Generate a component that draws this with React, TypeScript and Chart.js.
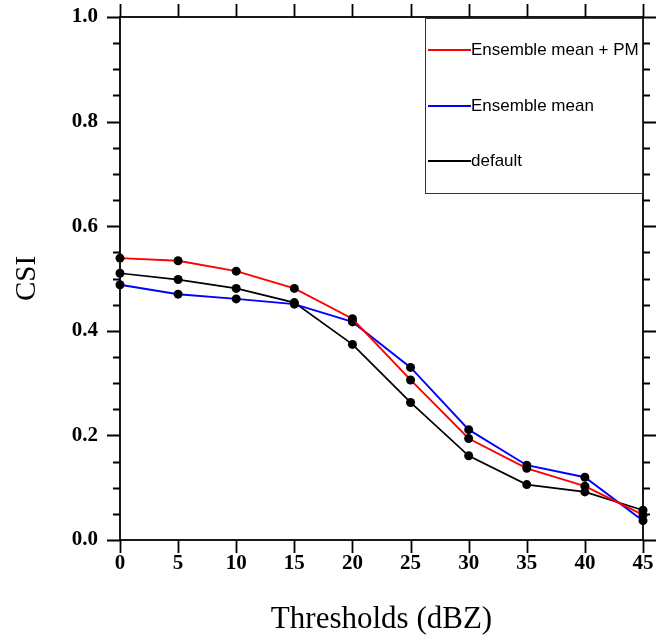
import React, { useEffect, useRef } from "react";
import { Chart, registerables } from "chart.js";

Chart.register(...registerables);

const thresholds = [0, 5, 10, 15, 20, 25, 30, 35, 40, 45];
const ensembleMeanPM = [0.539, 0.534, 0.514, 0.481, 0.423, 0.306, 0.194, 0.137, 0.103, 0.048];
const ensembleMean = [0.488, 0.47, 0.461, 0.451, 0.417, 0.33, 0.211, 0.143, 0.12, 0.037];
const defaultRun = [0.51, 0.498, 0.481, 0.454, 0.374, 0.263, 0.161, 0.106, 0.092, 0.057];

const seriesNames = ["Ensemble mean + PM", "Ensemble mean", "default"];
const seriesColors = ["#ff0000", "#0000ff", "#000000"];
const seriesValues = [ensembleMeanPM, ensembleMean, defaultRun];

const xMin = 0;
const xMax = 45;
const xStep = 5;
const yMin = 0;
const yMax = 1;
const yStep = 0.2;
const yMinorStep = 0.05;

const framePlugin = {
  id: "frameAndTicks",
  afterDatasetsDraw(chart: any) {
    const { ctx, chartArea, scales } = chart;
    const { left, right, top, bottom } = chartArea;
    const x = scales.x;
    const y = scales.y;
    ctx.save();
    ctx.strokeStyle = "#000";
    ctx.lineWidth = 1.8;
    ctx.strokeRect(left, top, right - left, bottom - top);
    ctx.beginPath();
    for (let v = xMin; v <= xMax + 1e-9; v += xStep) {
      const px = Math.round(x.getPixelForValue(v)) + 0.5;
      ctx.moveTo(px, bottom);
      ctx.lineTo(px, bottom + 13);
      ctx.moveTo(px, top);
      ctx.lineTo(px, top - 13);
    }
    const n = Math.round((yMax - yMin) / yMinorStep);
    const ratio = Math.round(yStep / yMinorStep);
    for (let i = 0; i <= n; i++) {
      const v = yMin + i * yMinorStep;
      const py = Math.round(y.getPixelForValue(v)) + 0.5;
      const len = i % ratio === 0 ? 13 : 7;
      ctx.moveTo(left - len, py);
      ctx.lineTo(left, py);
      ctx.moveTo(right, py);
      ctx.lineTo(right + len, py);
    }
    ctx.stroke();

    // legend box
    const bx = 425;
    const by = top + 1;
    const bw = right - bx;
    const bh = 175;
    ctx.fillStyle = "#fff";
    ctx.fillRect(bx, by, bw, bh);
    ctx.lineWidth = 1;
    ctx.strokeStyle = "#333";
    ctx.strokeRect(bx + 0.5, by + 0.5, bw - 1, bh);
    const rowY = [50, 106, 161];
    ctx.font = "17px 'Liberation Sans', Arial, sans-serif";
    ctx.textBaseline = "middle";
    ctx.textAlign = "left";
    seriesNames.forEach((name, i) => {
      ctx.strokeStyle = seriesColors[i];
      ctx.lineWidth = 2;
      ctx.beginPath();
      ctx.moveTo(bx + 3, rowY[i]);
      ctx.lineTo(bx + 46, rowY[i]);
      ctx.stroke();
      ctx.fillStyle = "#000";
      ctx.fillText(name, bx + 46, rowY[i]);
    });
    ctx.restore();
  },
};

export default function App() {
  const canvasRef = useRef<HTMLCanvasElement | null>(null);

  useEffect(() => {
    if (!canvasRef.current) return;
    const chart = new Chart(canvasRef.current, {
      type: "line",
      data: {
        datasets: seriesNames.map((name, i) => ({
          label: name,
          data: thresholds.map((t, j) => ({ x: t, y: seriesValues[i][j] })),
          borderColor: seriesColors[i],
          borderWidth: i === 2 ? 1.7 : 1.9,
          pointRadius: 4.5,
          pointBackgroundColor: "#000",
          pointBorderColor: "#000",
          pointBorderWidth: 0,
          tension: 0,
          fill: false,
          clip: false as any,
        })),
      },
      options: {
        animation: false,
        responsive: false,
        maintainAspectRatio: false,
        layout: { padding: { left: 0, right: 14, top: 17, bottom: 0 } },
        plugins: {
          legend: { display: false },
          tooltip: { enabled: false },
        },
        scales: {
          x: {
            type: "linear",
            min: xMin,
            max: xMax,
            grid: { display: true, drawOnChartArea: false, drawTicks: true, tickLength: 10, color: "rgba(0,0,0,0)" },
            border: { display: false },
            ticks: {
              stepSize: xStep,
              autoSkip: false,
              maxRotation: 0,
              padding: 1,
              color: "#000",
              font: { family: "'Liberation Serif', 'Times New Roman', serif", size: 21, weight: "bold" },
            },
            title: {
              display: true,
              text: "Thresholds (dBZ)",
              color: "#000",
              font: { family: "'Liberation Serif', 'Times New Roman', serif", size: 31 },
              padding: { top: 0, bottom: 1 },
            },
            afterFit: (s: any) => {
              s.height = 99;
            },
          },
          y: {
            type: "linear",
            min: yMin,
            max: yMax,
            grid: { display: true, drawOnChartArea: false, drawTicks: true, tickLength: 20, color: "rgba(0,0,0,0)" },
            border: { display: false },
            ticks: {
              stepSize: yStep,
              padding: 2,
              color: "#000",
              callback: (v: any) => Number(v).toFixed(1),
              font: { family: "'Liberation Serif', 'Times New Roman', serif", size: 21, weight: "bold" },
            },
            title: {
              display: true,
              text: "CSI",
              color: "#000",
              font: { family: "'Liberation Serif', 'Times New Roman', serif", size: 29 },
              padding: { top: 10, bottom: 0 },
            },
            afterFit: (s: any) => {
              s.width = 120;
            },
          },
        },
      } as any,
      plugins: [framePlugin],
    });
    return () => chart.destroy();
  }, []);

  return (
    <div style={{ position: "fixed", left: 0, top: 0, width: 657, height: 639, background: "#fff" }}>
      <canvas ref={canvasRef} width={657} height={639} style={{ width: 657, height: 639 }} />
    </div>
  );
}
